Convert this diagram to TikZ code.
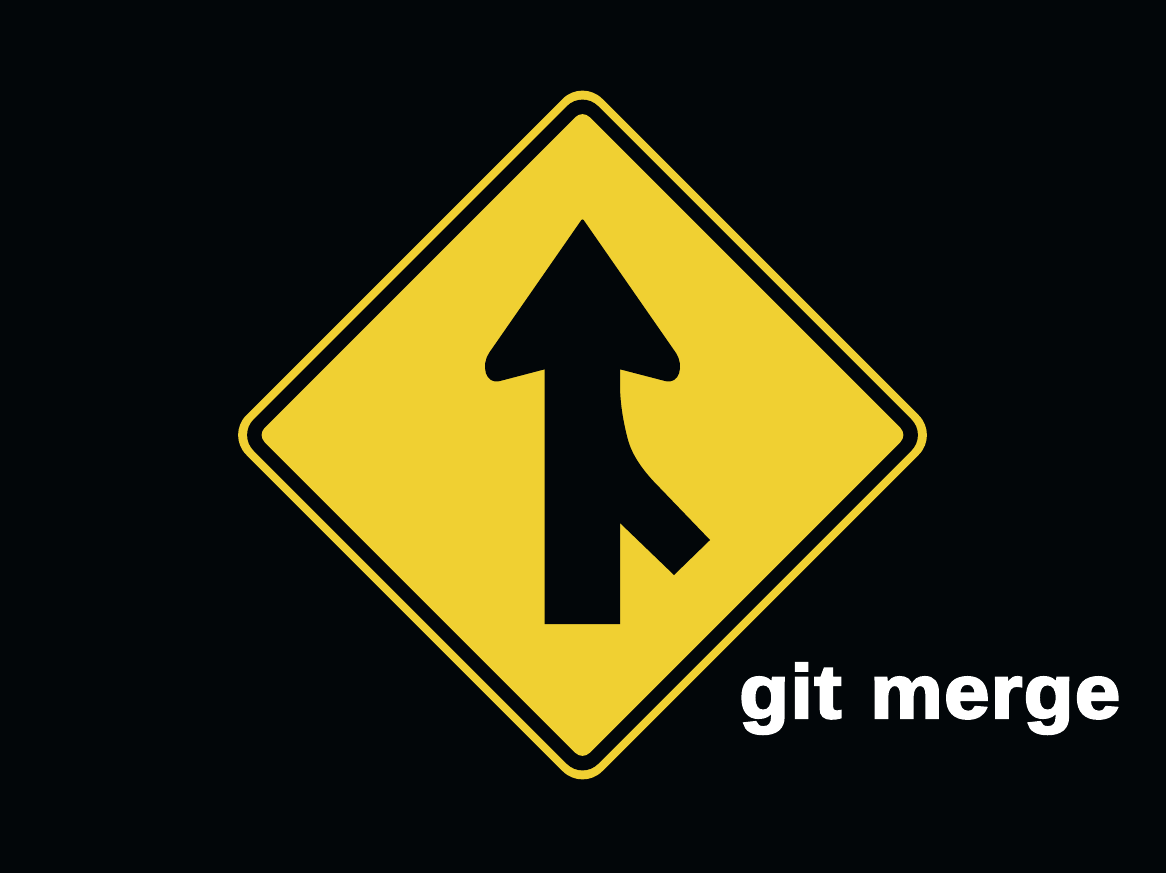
\documentclass[tikz,border=0pt]{standalone}
\usepackage{fontspec}
\newfontfamily\labelfont[FakeBold=3,LetterSpace=1.5,WordSpace=1.2]{Liberation Sans Bold}
\definecolor{signyellow}{HTML}{F0D032}
\definecolor{signblack}{HTML}{020609}
\tikzset{
  signplate/.style={fill=#1},
  signlabel/.style={text=white, font=\labelfont\fontsize{76}{76}\selectfont, inner sep=0pt, anchor=base west, xscale=1.075}
}
\begin{document}
\begin{tikzpicture}[x=1pt,y=-1pt]
    \useasboundingbox (0,0) rectangle (1166,873);
    \fill[signblack] (0,0) rectangle (1166,873);
    % three plates
    \fill[signplate=signyellow, rounded corners=28pt] (582.5,79) -- (938.5,435) -- (582.5,791) -- (226.5,435) -- cycle;
    \fill[signplate=signblack, rounded corners=22pt] (582.5,90.5) -- (927,435) -- (582.5,779.5) -- (238,435) -- cycle;
    \fill[signplate=signyellow, rounded corners=10pt] (582.5,110) -- (907.5,435) -- (582.5,760) -- (257.5,435) -- cycle;
    % arrow
    \fill[signblack] (580,222) .. controls (582,218.5) and (583,218.5) .. (585,222)
      -- (676,353) .. controls (684,365) and (680,385) .. (665,381)
      -- (620,369.3) -- (620,385) .. controls (620,405) and (624,425) .. (628,440)
      .. controls (633,458) and (646,474) .. (660,488)
      -- (710,540) -- (674,575) -- (620,523) -- (620,624) -- (544.7,624) -- (544.7,369.3)
      -- (500,381) .. controls (485,385) and (481,365) .. (489,353) -- cycle;
    \node[signlabel] (gitmerge) at (739,718) {git merge};
\end{tikzpicture}
\end{document}
